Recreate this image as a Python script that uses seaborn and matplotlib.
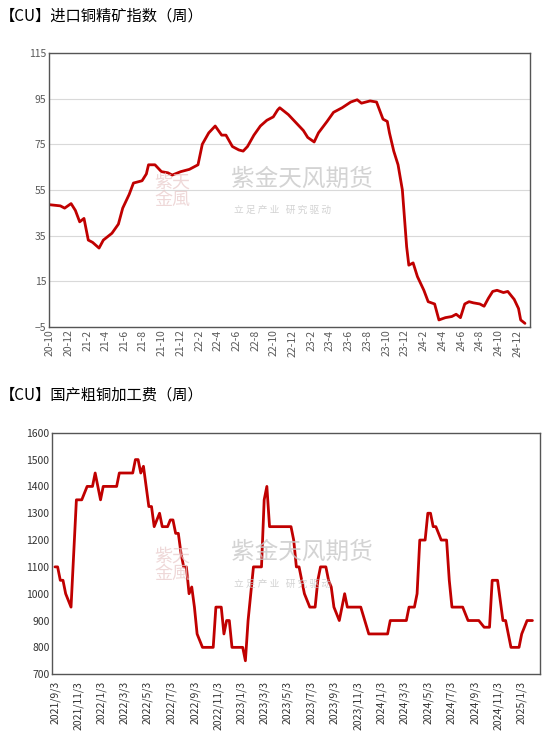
import matplotlib
matplotlib.use("Agg")
import matplotlib.pyplot as plt
import seaborn as sns
import pandas as pd
import numpy as np

sns.set_theme(style="white")
plt.rcParams['font.family'] = ['Noto Sans CJK SC', 'DejaVu Sans']

# Top: import copper concentrate index (weekly), weeks since 2020-10-01
top_start = "2020-10-01"
top_weeks = [0,5,7,10,12,14,16,18,20,23,25,29,32,34,37,39,43,45,46,49,52,55,57,61,65,69,71,74,77,80,82,85,88,90,92,95,98,101,104,106,107,111,114,118,120,123,125,129,132,136,140,143,145,149,152,155,157,158,160,162,164,166,167,169,171,174,176,179,181,184,187,189,191,193,195,197,200,202,204,206,208,211,213,216,218,219,221]
top_vals = [48.5,48,47,49,46,41,42.5,33,32,29.5,33,36,40,47,53,58,59,62,66,66,63,62.5,61.5,63,64,66,75,80,83,79,79,74,72.5,72,74,79,83,85.5,87,90,91,88,85,81,78,76,80,85,89,91,93.5,94.5,93,94,93.5,86,85,80,72,66,55,30,22,23,17,11,6,5,-2,-1,-0.5,0.5,-1,5,6,5.5,5,4,7.5,10.5,11,10,10.5,7,3,-2,-3.5]

# Bottom: domestic blister copper processing fee (weekly), weeks since 2021-09-03
bot_start = "2021-09-03"
bot_weeks = [0,1,2,3,4,6,8,10,12,14,15,16,17,18,23,24,29,30,31,32,33,34,35,36,37,39,40,42,43,44,45,46,47,48,49,50,51,52,53,55,59,60,62,63,64,65,66,70,71,72,73,74,77,78,79,80,88,89,90,91,93,95,97,98,99,101,102,103,104,106,107,108,109,114,117,124,125,131,132,134,135,136,138,139,140,141,142,144,146,147,148,152,154,158,160,162,163,165,167,168,169,170,173,174,176,178]
bot_vals = [1100,1100,1050,1050,1000,950,1350,1350,1400,1400,1450,1400,1350,1400,1400,1450,1450,1500,1500,1450,1475,1400,1325,1325,1250,1300,1250,1250,1275,1275,1225,1225,1150,1100,1100,1000,1025,950,850,800,800,950,950,850,900,900,800,800,750,900,1000,1100,1100,1350,1400,1250,1250,1200,1100,1100,1000,950,950,1050,1100,1100,1050,1025,950,900,950,1000,950,950,850,850,900,900,950,950,1000,1200,1200,1300,1300,1250,1250,1200,1200,1050,950,950,900,900,875,875,1050,1050,900,900,850,800,800,850,900,900]

top = pd.DataFrame({"date": pd.Timestamp(top_start) + pd.to_timedelta(np.array(top_weeks) * 7, unit="D"), "v": top_vals})
bot = pd.DataFrame({"date": pd.Timestamp(bot_start) + pd.to_timedelta(np.array(bot_weeks) * 7, unit="D"), "v": bot_vals})

red = "#C00000"
fig = plt.figure(figsize=(5.5, 7.36), dpi=100)

ax1 = fig.add_axes([0.089, 0.556, 0.875, 0.372])
sns.lineplot(data=top, x="date", y="v", ax=ax1, color=red, linewidth=2)
ax1.set_ylim(-5, 115)
ax1.set_yticks(range(-5, 116, 20))
ax1.set_xlim(pd.Timestamp("2020-09-29"), pd.Timestamp("2025-01-12"))
ticks1 = pd.date_range("2020-10-01", "2024-12-01", freq="2MS")
ax1.set_xticks(ticks1)
ax1.set_xticklabels([f"{d.year % 100}-{d.month}" for d in ticks1], rotation=90)
ax1.grid(axis="y", color="#d9d9d9", linewidth=0.8)
ax1.set_xlabel(""); ax1.set_ylabel("")
for s in ax1.spines.values():
    s.set_color("#555555"); s.set_linewidth(1)
ax1.tick_params(labelsize=7.5, colors="#595959", length=0, pad=2)

ax2 = fig.add_axes([0.095, 0.084, 0.887, 0.328])
sns.lineplot(data=bot, x="date", y="v", ax=ax2, color=red, linewidth=2)
ax2.set_ylim(700, 1600)
ax2.set_yticks(range(700, 1601, 100))
ax2.set_xlim(pd.Timestamp("2021-08-27"), pd.Timestamp("2025-02-20"))
ticks2 = pd.date_range("2021-09-01", "2025-01-01", freq="2MS") + pd.Timedelta(days=2)
ax2.set_xticks(ticks2)
ax2.set_xticklabels([f"{d.year}/{d.month}/{d.day}" for d in ticks2], rotation=90)
ax2.set_xlabel(""); ax2.set_ylabel("")
for s in ax2.spines.values():
    s.set_color("#555555"); s.set_linewidth(1)
ax2.tick_params(labelsize=7.5, colors="#333333", length=3, pad=2)
ax2.tick_params(axis="y", length=0)

fig.text(0.0, 0.978, "【CU】进口铜精矿指数（周）", fontsize=11, va="center", color="#000000")
fig.text(0.0, 0.463, "【CU】国产粗铜加工费（周）", fontsize=11, va="center", color="#000000")

for (x, y) in [(0.42, 0.745), (0.42, 0.237)]:
    fig.text(x, y + 0.012, "紫金天风期货", fontsize=17, color="#c8c8c8", alpha=0.8, va="center")
    fig.text(x + 0.005, y - 0.03, "立 足 产 业   研 究 驱 动", fontsize=7, color="#c8c8c8", alpha=0.8, va="center")
    fig.text(x - 0.14, y - 0.005, "紫天\n金風", fontsize=13, color="#e8c8c8", alpha=0.7, va="center", linespacing=1.0)

fig.savefig("out.png", dpi=100)
